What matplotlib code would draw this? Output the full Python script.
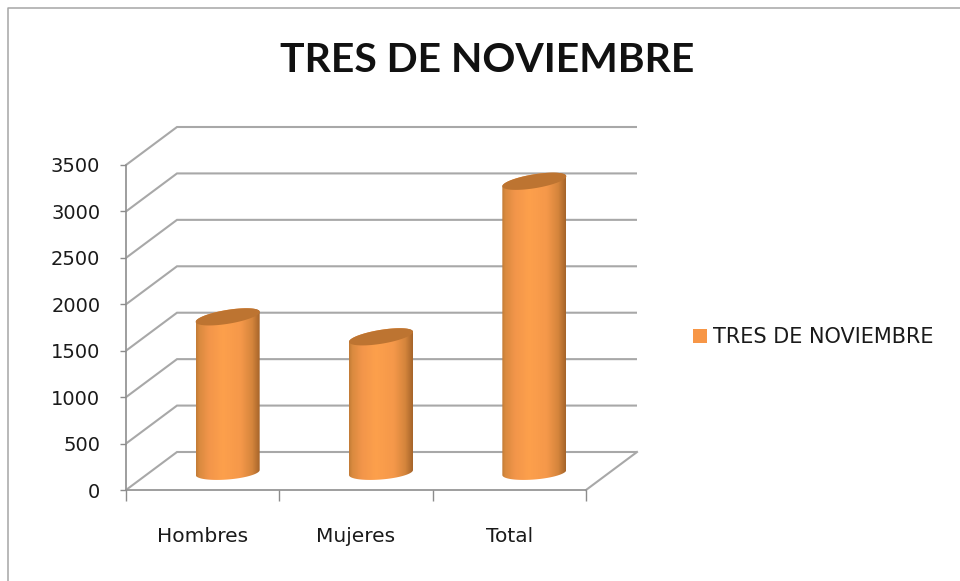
import numpy as np
import matplotlib
matplotlib.use("Agg")
import matplotlib.pyplot as plt
from matplotlib.colors import LinearSegmentedColormap
from matplotlib.lines import Line2D
from matplotlib.patches import Patch, Polygon

title = "TRES DE NOVIEMBRE"
categories = ["Hombres", "Mujeres", "Total"]
values = [1660, 1445, 3120]
yticks = [0, 500, 1000, 1500, 2000, 2500, 3000, 3500]

W, H = 960, 581
fig = plt.figure(figsize=(W / 100, H / 100), dpi=100, facecolor="white")
L, R, T, B = 126, 586, 165, 490
ax = fig.add_axes([L / W, (H - B) / H, (R - L) / W, (B - T) / H])
ax.set_facecolor("none")
ax.set_xlim(0, len(categories))
ax.set_ylim(0, yticks[-1])

px_x = (R - L) / len(categories)
px_y = (B - T) / yticks[-1]
DX = 51 / px_x
DY = 38 / px_y
GRID = "#a8a8a8"
LW = 1.5

fig.add_artist(Line2D([8 / W, 8 / W, 1], [0, 1 - 8 / H, 1 - 8 / H], color="#a6a6a6", lw=1.1))

n = len(categories)
for v in yticks:
    ax.plot([0, DX, n + DX], [v, v + DY, v + DY], color=GRID, lw=LW, clip_on=False, zorder=1,
            solid_capstyle="butt", solid_joinstyle="miter")
ax.plot([n, n + DX], [0, DY], color=GRID, lw=LW, clip_on=False, zorder=1)

for s in ["top", "right"]:
    ax.spines[s].set_visible(False)
for s in ["left", "bottom"]:
    ax.spines[s].set_color("#969696")
    ax.spines[s].set_linewidth(1.3)
    ax.spines[s].set_zorder(1.5)

ax.set_yticks(yticks)
ax.set_yticklabels([str(v) for v in yticks])
ax.tick_params(axis="y", length=4, width=1, color="#8c8c8c", pad=14.5, labelsize=14, labelcolor="#1a1a1a")
ax.set_xticks(np.arange(n + 1))
ax.set_xticklabels([])
ax.set_xticks(np.arange(n) + 0.5, minor=True)
ax.set_xticklabels(categories, minor=True)
ax.tick_params(axis="x", which="major", length=8, width=1, color="#8c8c8c")
ax.tick_params(axis="x", which="minor", length=0, pad=26.5, labelsize=14.5, labelcolor="#1a1a1a")

cmap = LinearSegmentedColormap.from_list("cyl", [
    (0.00, "#c17b36"), (0.05, "#d98a3f"), (0.20, "#f2954a"), (0.42, "#fda04c"),
    (0.70, "#f5984a"), (0.88, "#d5853c"), (1.00, "#a5642a")])
grad = np.linspace(0, 1, 256).reshape(1, -1)

HALF_W = 32
TILT_TOP = 5
TILT_BASE = 2.5
SEMI = 7
t = np.linspace(0, 2 * np.pi, 121)
for i, v in enumerate(values):
    cx = i + 0.5 + DX / 2 - 0.5 / px_x
    cy0 = DY / 2 - 1.5 / px_y
    cy1 = v + DY / 2
    ox = HALF_W * np.cos(t) / px_x
    oy_top = (TILT_TOP * np.cos(t) + SEMI * np.sin(t)) / px_y
    oy_base = (TILT_BASE * np.cos(t) + SEMI * np.sin(t)) / px_y
    low = t >= np.pi
    up = t <= np.pi
    # silhouette: lower half of the base ellipse plus upper half of the top ellipse
    xs = np.r_[cx + ox[low], cx + ox[up]]
    ys = np.r_[cy0 + oy_base[low], cy1 + oy_top[up]]
    body = Polygon(np.c_[xs, ys], closed=True, transform=ax.transData, facecolor="none", edgecolor="none")
    ax.add_patch(body)
    im = ax.imshow(grad, cmap=cmap, aspect="auto", zorder=3, interpolation="bilinear",
                   extent=[cx - HALF_W / px_x, cx + HALF_W / px_x, cy0 - 12 / px_y, cy1 + 12 / px_y])
    im.set_clip_path(body)
    ax.add_patch(Polygon(np.c_[cx + ox, cy1 + oy_top], closed=True, facecolor="#bd7431", edgecolor="none",
                         zorder=4, clip_on=False))
ax.set_xlim(0, n)
ax.set_ylim(0, yticks[-1])

fig.text(487 / W, 1 - 60 / H, title, ha="center", va="center", fontsize=29.4, fontweight="bold",
         family="Lato", color="#111111")

leg = fig.legend(handles=[Patch(facecolor="#f79646", edgecolor="none", label=title)],
                 loc="center left", bbox_to_anchor=(687 / W, 1 - 337 / H), frameon=False,
                 fontsize=15, handlelength=0.67, handleheight=0.67, handletextpad=0.29,
                 labelcolor="#1a1a1a", borderpad=0.3, borderaxespad=0)

fig.savefig("out.png", dpi=100, facecolor="white")
